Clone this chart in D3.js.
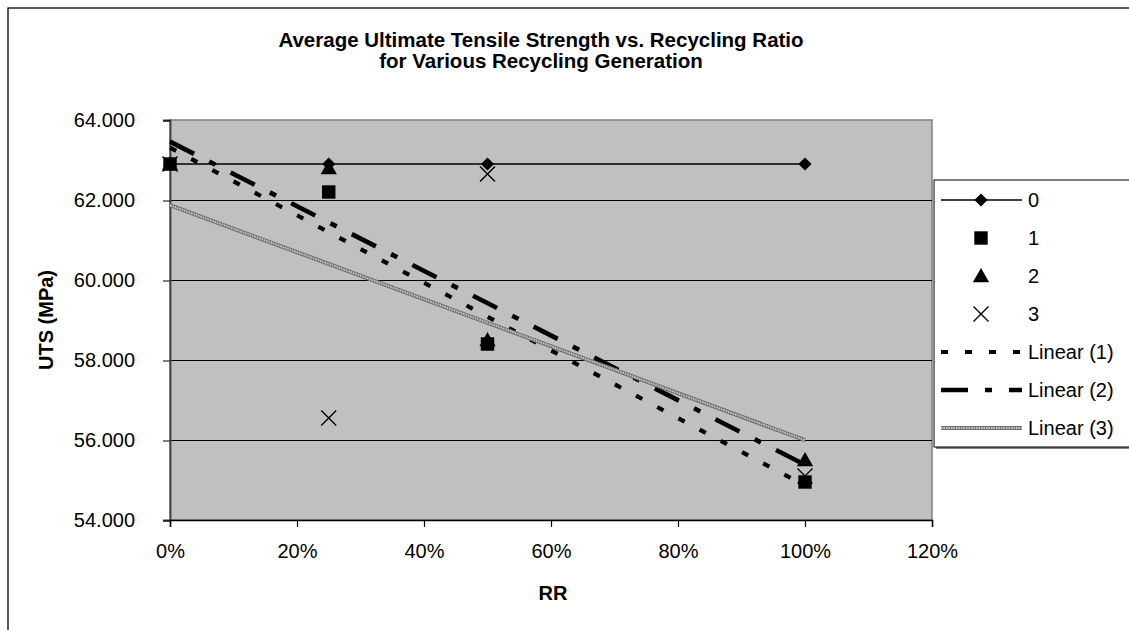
<!DOCTYPE html>
<html><head><meta charset="utf-8">
<script src="https://cdn.jsdelivr.net/npm/d3@7"></script>
<style>
body{margin:0;background:#fff}
text{font-family:"Liberation Sans",Arial,Helvetica,sans-serif;fill:#000}
</style>
</head><body><svg id="chart" width="1129" height="630"></svg>
<script>
// Recycling ratio (x) and average UTS (MPa) per recycling generation
const ratios = [0, 0.25, 0.5, 1.0];
const gen0 = [62.9, 62.9, 62.9, 62.9];
const gen1 = [62.9, 62.2, 58.4, 54.95];
const gen2 = [62.9, 62.8, 58.5, 55.5];
const gen3 = [62.9, 56.55, 62.65, 55.1];
const seriesNames = ["0", "1", "2", "3"];
const trendNames = ["Linear (1)", "Linear (2)", "Linear (3)"];
const yTicks = [54, 56, 58, 60, 62, 64];
const xTicks = [0, 0.2, 0.4, 0.6, 0.8, 1.0, 1.2];
const titleLines = ["Average Ultimate Tensile Strength vs. Recycling Ratio", "for Various Recycling Generation"];

const svg = d3.select("#chart");
const x = d3.scaleLinear().domain([0, 1.2]).range([170, 932]);
const y = d3.scaleLinear().domain([54, 64]).range([520, 120]);

// chart frame
svg.append("rect").attr("x", 8).attr("y", 8).attr("width", 1140).attr("height", 640)
  .attr("fill", "#fff").attr("stroke", "#000").attr("stroke-width", 1.3);

// plot area
svg.append("rect").attr("x", x(0)).attr("y", y(64)).attr("width", x(1.2) - x(0)).attr("height", y(54) - y(64))
  .attr("fill", "#c0c0c0").attr("stroke", "#808080").attr("stroke-width", 1.5);

// gridlines
svg.append("g").attr("shape-rendering", "crispEdges")
  .selectAll("line").data(yTicks.filter(d => d > 54 && d < 64)).join("line")
  .attr("x1", x(0)).attr("x2", x(1.2)).attr("y1", d => y(d) + 0.5).attr("y2", d => y(d) + 0.5)
  .attr("stroke", "#000").attr("stroke-width", 1);

// axes
const yAxis = d3.axisLeft(y).tickValues(yTicks).tickFormat(d3.format(".3f")).tickSizeOuter(0).tickSize(7);
const gy = svg.append("g").attr("transform", `translate(${x(0)},0)`).call(yAxis);
gy.select(".domain").attr("stroke", "#404040").attr("stroke-width", 1.8);
gy.selectAll(".tick line").attr("stroke", "#000").attr("stroke-width", 1).attr("transform", "translate(0,0.5)");
gy.selectAll(".tick text").attr("font-size", 20).attr("dy", "0.34em").attr("x", -35);

const xAxis = d3.axisBottom(x).tickValues(xTicks).tickFormat(d3.format(".0%")).tickSizeOuter(0).tickSize(7);
const gx = svg.append("g").attr("transform", `translate(0,${y(54)})`).call(xAxis);
gx.select(".domain").attr("stroke", "#000").attr("stroke-width", 1.5);
gx.selectAll(".tick line").attr("stroke", "#000").attr("stroke-width", 1.2);
gx.selectAll(".tick text").attr("font-size", 20).attr("y", 38).attr("dy", 0);
svg.selectAll(".domain").attr("fill", "none");

// axis titles
svg.append("text").attr("transform", "translate(53,320) rotate(-90)").attr("text-anchor", "middle")
  .attr("font-size", 20).attr("font-weight", "bold").text("UTS (MPa)");
svg.append("text").attr("x", 553).attr("y", 600).attr("text-anchor", "middle")
  .attr("font-size", 20).attr("font-weight", "bold").text("RR");

// chart title
svg.append("g").selectAll("text").data(titleLines).join("text")
  .attr("x", 541).attr("y", (d, i) => 47 + i * 21).attr("text-anchor", "middle")
  .attr("font-size", 20.5).attr("font-weight", "bold").text(d => d);

// least-squares trend line
function fit(xs, ys) {
  const mx = d3.mean(xs), my = d3.mean(ys);
  const sxy = d3.sum(xs, (v, i) => (v - mx) * (ys[i] - my));
  const sxx = d3.sum(xs, v => (v - mx) ** 2);
  const b = sxy / sxx;
  return { a: my - b * mx, b };
}
const trendStyles = [
  { data: gen1, dash: "7,17", width: 4.2 },
  { data: gen2, dash: "27,17,7,17", width: 4.6 },
  { data: gen3, dash: null, width: 4 }
];
function drawTrend(g, st, x1, y1, x2, y2) {
  if (st.dash) {
    g.append("line").attr("x1", x1).attr("y1", y1).attr("x2", x2).attr("y2", y2)
      .attr("stroke", "#000").attr("stroke-width", st.width).attr("stroke-dasharray", st.dash);
  } else {
    g.append("line").attr("x1", x1).attr("y1", y1).attr("x2", x2).attr("y2", y2)
      .attr("stroke", "#707070").attr("stroke-width", st.width);
    g.append("line").attr("x1", x1).attr("y1", y1).attr("x2", x2).attr("y2", y2)
      .attr("stroke", "#c8c8c8").attr("stroke-width", 2).attr("stroke-dasharray", "1.5,1");
  }
}
const trendG = svg.append("g");
trendStyles.forEach(st => {
  const f = fit(ratios, st.data);
  drawTrend(trendG, st, x(0), y(f.a), x(1), y(f.a + f.b));
});

// markers
const sym = {
  diamond: d3.symbol().type(d3.symbolDiamond2).size(110),
  square: d3.symbol().type(d3.symbolSquare).size(180),
  triangle: d3.symbol().type(d3.symbolTriangle).size(115)
};
function marker(g, kind, cx, cy) {
  if (kind === "x") {
    const r = 7.5;
    g.append("path").attr("d", `M${cx - r},${cy - r}L${cx + r},${cy + r}M${cx - r},${cy + r}L${cx + r},${cy - r}`)
      .attr("stroke", "#000").attr("stroke-width", 1.4).attr("fill", "none");
  } else {
    g.append("path").attr("d", sym[kind]()).attr("transform", `translate(${cx},${cy + (kind === "triangle" ? 1.5 : 0)})`)
      .attr("fill", "#000");
  }
}
const kinds = ["diamond", "square", "triangle", "x"];
const seriesData = [gen0, gen1, gen2, gen3];

// generation 0 connecting line
svg.append("path").datum(ratios.map((r, i) => [r, gen0[i]]))
  .attr("d", d3.line().x(d => x(d[0])).y(d => y(d[1])))
  .attr("fill", "none").attr("stroke", "#000").attr("stroke-width", 1.5);

const markG = svg.append("g");
seriesData.forEach((vals, s) => {
  vals.forEach((v, i) => marker(markG, kinds[s], x(ratios[i]), y(v)));
});

// legend
const lg = svg.append("g");
lg.append("rect").attr("x", 936).attr("y", 182).attr("width", 220).attr("height", 267).attr("fill", "#808080");
lg.append("rect").attr("x", 934).attr("y", 180).attr("width", 220).attr("height", 267)
  .attr("fill", "#fff").attr("stroke", "#000").attr("stroke-width", 1);
const legendRows = seriesNames.concat(trendNames);
legendRows.forEach((name, i) => {
  const ly = 200 + i * 38;
  if (i === 0) {
    lg.append("line").attr("x1", 941).attr("x2", 1022).attr("y1", ly).attr("y2", ly)
      .attr("stroke", "#000").attr("stroke-width", 1.5);
  }
  if (i < 4) marker(lg, kinds[i], 981, ly);
  else drawTrend(lg, trendStyles[i - 4], 941, ly, 1022, ly);
  lg.append("text").attr("x", 1028).attr("y", ly + 7).attr("font-size", 20).text(name);
});
</script>
</body></html>
